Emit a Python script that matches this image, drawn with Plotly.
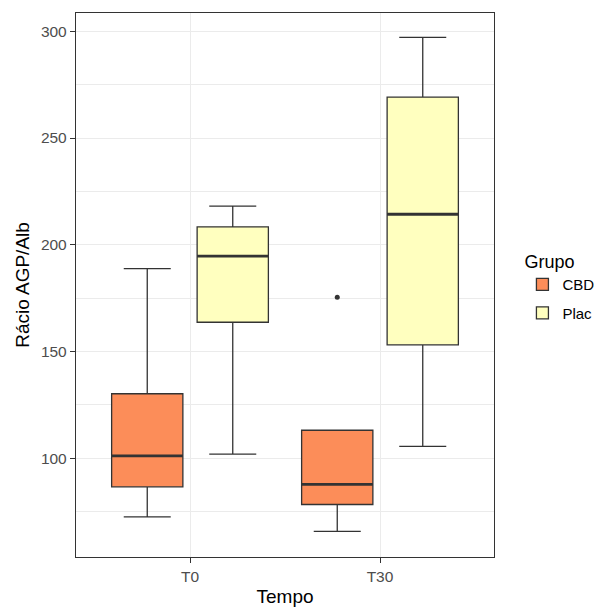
import plotly.graph_objects as go

# ---- data ----
tempo = ["T0", "T30"]
grupos = ["CBD", "Plac"]
q1 = {"CBD": [86.6, 78.3], "Plac": [163.7, 153.1]}
median = {"CBD": [101.1, 87.7], "Plac": [194.7, 214.3]}
q3 = {"CBD": [130.2, 113.1], "Plac": [208.4, 269.2]}
lower = {"CBD": [72.5, 65.7], "Plac": [101.9, 105.5]}
upper = {"CBD": [188.8, 113.1], "Plac": [218.1, 297.2]}
outlier_tempo = ["T30"]
outlier_grupo = ["CBD"]
outlier_val = [175.4]

colors = {"CBD": "#FC8D59", "Plac": "#FFFFBF"}
LINE = "#333333"
DODGE = 0.9
BOXW = 0.75 / 2

def pos(ti, gi):
    n = len(grupos)
    return ti + 1 + (gi - (n - 1) / 2) * DODGE / n

fig = go.Figure()
for gi, g in enumerate(grupos):
    xs = [pos(ti, gi) for ti in range(len(tempo))]
    fig.add_trace(go.Box(
        x=xs, q1=q1[g], median=median[g], q3=q3[g],
        lowerfence=lower[g], upperfence=upper[g],
        width=BOXW, whiskerwidth=0.66,
        fillcolor=colors[g], line=dict(color=LINE, width=1.3),
        name=g, legendgroup=g, boxpoints=False, hoverinfo="skip",
    ))
    # thicker median line (ggplot fatten)
    for ti, x in enumerate(xs):
        fig.add_trace(go.Scatter(
            x=[x - BOXW / 2, x + BOXW / 2], y=[median[g][ti]] * 2,
            mode="lines", line=dict(color=LINE, width=2.8),
            showlegend=False, hoverinfo="skip",
        ))

fig.add_trace(go.Scatter(
    x=[pos(tempo.index(t), grupos.index(g)) for t, g in zip(outlier_tempo, outlier_grupo)],
    y=outlier_val, mode="markers",
    marker=dict(color=LINE, size=5), showlegend=False, hoverinfo="skip",
))

FONT = "Liberation Sans, Arial, sans-serif"
fig.update_layout(
    width=598, height=607,
    margin=dict(l=76, r=104, t=13, b=50, autoexpand=False),
    paper_bgcolor="white", plot_bgcolor="white",
    boxmode="overlay",
    font=dict(family=FONT, color="black"),
    legend=dict(
        title=dict(text="Grupo", font=dict(size=18, color="black")),
        font=dict(size=15, color="black"),
        x=1.068, xanchor="left", y=0.496, yanchor="middle",
        traceorder="grouped", tracegroupgap=6,
        bgcolor="rgba(0,0,0,0)",
    ),
    xaxis=dict(
        range=[0.4, len(tempo) + 0.6],
        tickmode="array", tickvals=list(range(1, len(tempo) + 1)), ticktext=tempo,
        showgrid=True, gridcolor="#EBEBEB", gridwidth=1.3,
        showline=True, mirror=True, linecolor=LINE, linewidth=1.3,
        ticks="outside", ticklen=5, tickwidth=1.3, tickcolor=LINE,
        tickfont=dict(size=15.5, color="#4D4D4D"),
        zeroline=False,
        title=dict(text="Tempo", font=dict(size=19, color="black"), standoff=5),
    ),
    yaxis=dict(
        range=[53.7, 308.6],
        tickmode="array", tickvals=[100, 150, 200, 250, 300],
        showgrid=True, gridcolor="#EBEBEB", gridwidth=1.3,
        minor=dict(tickmode="array", tickvals=[75, 125, 175, 225, 275],
                   showgrid=True, gridcolor="#EBEBEB", gridwidth=0.7, ticklen=0),
        showline=True, mirror=True, linecolor=LINE, linewidth=1.3,
        ticks="outside", ticklen=5, tickwidth=1.3, tickcolor=LINE,
        tickfont=dict(size=15.5, color="#4D4D4D"),
        zeroline=False,
        title=dict(text="Rácio AGP/Alb", font=dict(size=19, color="black"), standoff=6),
    ),
)

fig.write_html(
    "out.html",
    config={"displayModeBar": False},
    post_script="document.body.style.margin='0';document.body.style.overflow='hidden';",
)
